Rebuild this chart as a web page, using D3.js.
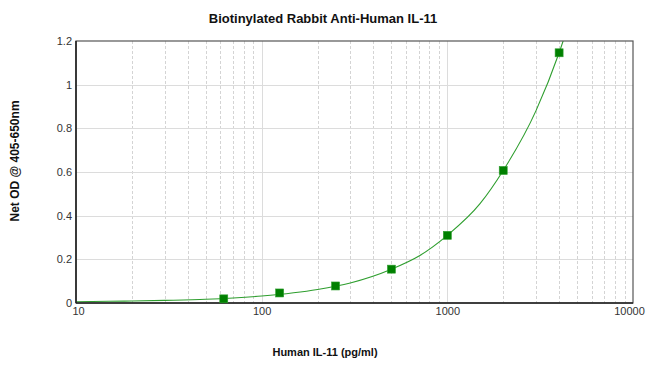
<!DOCTYPE html>
<html>
<head>
<meta charset="utf-8">
<script src="https://cdn.jsdelivr.net/npm/d3@7"></script>
<style>
  body { margin: 0; background: #fff; }
  svg { display: block; font-family: "Liberation Sans", Arial, sans-serif; }
  .grid line { shape-rendering: crispEdges; }
</style>
</head>
<body>
<div id="chart"></div>
<script>
// standard points (pg/ml vs net OD)
const concentrations = [62.5, 125, 250, 500, 1000, 2000, 4000];
const odValues = [0.019, 0.046, 0.078, 0.155, 0.31, 0.607, 1.146];

// fitted curve
const curveConc = [10, 15, 20, 30, 50, 100, 200, 300, 500, 700, 1000, 1500, 2000, 3000, 4000, 4300];
const curveOd = [0.006, 0.008, 0.009, 0.012, 0.017, 0.032, 0.062, 0.092, 0.155, 0.214, 0.31, 0.455, 0.607, 0.88, 1.146, 1.225];

const yTicks = [0, 0.2, 0.4, 0.6, 0.8, 1, 1.2];
const xTicks = [10, 100, 1000, 10000];

const svgWidth = 650;
const svgHeight = 376;
const margin = { top: 41, right: 17, bottom: 73, left: 76 };
const chartWidth = svgWidth - margin.left - margin.right;
const chartHeight = svgHeight - margin.top - margin.bottom;

const svg = d3.select("#chart")
  .append("svg")
  .attr("width", svgWidth)
  .attr("height", svgHeight);

const chartGroup = svg.append("g")
  .attr("transform", `translate(${margin.left}, ${margin.top})`);

const xScale = d3.scaleLog()
  .domain([10, 10000])
  .range([0, chartWidth]);

const yScale = d3.scaleLinear()
  .domain([0, 1.2])
  .range([chartHeight, 0]);

// minor + major vertical grid
const minorTicks = [];
[10, 100, 1000].forEach(dec => {
  for (let k = 2; k <= 9; k++) minorTicks.push(dec * k);
});

const grid = chartGroup.append("g").attr("class", "grid");

grid.selectAll(".vminor")
  .data(minorTicks)
  .enter()
  .append("line")
  .attr("x1", d => Math.round(xScale(d)) + 0.5)
  .attr("x2", d => Math.round(xScale(d)) + 0.5)
  .attr("y1", 0)
  .attr("y2", chartHeight)
  .attr("stroke", "#d4d4d4")
  .attr("stroke-dasharray", "3,2");

grid.selectAll(".vmajor")
  .data(xTicks.slice(1, -1))
  .enter()
  .append("line")
  .attr("x1", d => Math.round(xScale(d)) + 0.5)
  .attr("x2", d => Math.round(xScale(d)) + 0.5)
  .attr("y1", 0)
  .attr("y2", chartHeight)
  .attr("stroke", "#dcdcdc");

grid.selectAll(".hgrid")
  .data(yTicks.slice(1, -1))
  .enter()
  .append("line")
  .attr("x1", 0)
  .attr("x2", chartWidth)
  .attr("y1", d => Math.round(yScale(d)) + 0.5)
  .attr("y2", d => Math.round(yScale(d)) + 0.5)
  .attr("stroke", "#dcdcdc");

// fitted curve, clipped to the plot area
chartGroup.append("clipPath")
  .attr("id", "plotClip")
  .append("rect")
  .attr("width", chartWidth)
  .attr("height", chartHeight);

const line = d3.line()
  .x(d => xScale(d[0]))
  .y(d => yScale(d[1]))
  .curve(d3.curveMonotoneX);

chartGroup.append("path")
  .datum(d3.zip(curveConc, curveOd))
  .attr("clip-path", "url(#plotClip)")
  .attr("fill", "none")
  .attr("stroke", "#2e9e2e")
  .attr("stroke-width", 1.1)
  .attr("d", line);

// frame
chartGroup.append("rect")
  .attr("x", 0)
  .attr("y", 0)
  .attr("width", chartWidth)
  .attr("height", chartHeight)
  .attr("fill", "none")
  .attr("stroke", "#555")
  .attr("stroke-width", 1.2);

chartGroup.append("line")
  .attr("x1", 0).attr("x2", 0)
  .attr("y1", 0).attr("y2", chartHeight)
  .attr("stroke", "#222").attr("stroke-width", 1.6);

chartGroup.append("line")
  .attr("x1", 0).attr("x2", chartWidth)
  .attr("y1", chartHeight).attr("y2", chartHeight)
  .attr("stroke", "#222").attr("stroke-width", 1.6);

// markers
const size = 8;
chartGroup.selectAll(".pt")
  .data(d3.zip(concentrations, odValues))
  .enter()
  .append("rect")
  .attr("x", d => xScale(d[0]) - size / 2)
  .attr("y", d => yScale(d[1]) - size / 2)
  .attr("width", size)
  .attr("height", size)
  .attr("fill", "#008000")
  .attr("stroke", "#2e9e2e")
  .attr("stroke-width", 0.6);

// axes (labels only)
const yAxis = d3.axisLeft(yScale)
  .tickValues(yTicks)
  .tickSize(0)
  .tickPadding(4)
  .tickFormat(d => String(+d.toFixed(1)));

const xAxis = d3.axisBottom(xScale)
  .tickValues(xTicks)
  .tickSize(0)
  .tickPadding(4)
  .tickFormat(d3.format("d"));

const yG = chartGroup.append("g").call(yAxis);
const xG = chartGroup.append("g")
  .attr("transform", `translate(0,${chartHeight})`)
  .call(xAxis);

[yG, xG].forEach(g => {
  g.select(".domain").remove();
  g.selectAll("text")
    .attr("font-family", "'Liberation Sans', Arial, sans-serif")
    .attr("font-size", "11px")
    .attr("fill", "#333");
});
xG.selectAll("text").filter(d => d === 10).attr("dx", "2px");
xG.selectAll("text").filter(d => d === 10000).attr("dx", "-4px");

// titles
svg.append("text")
  .attr("x", 323)
  .attr("y", 23)
  .attr("text-anchor", "middle")
  .attr("font-weight", "bold")
  .attr("font-size", "13px")
  .attr("fill", "#111")
  .text("Biotinylated Rabbit Anti-Human IL-11");

svg.append("text")
  .attr("x", 325)
  .attr("y", 356)
  .attr("text-anchor", "middle")
  .attr("font-weight", "bold")
  .attr("font-size", "11px")
  .attr("fill", "#111")
  .text("Human IL-11 (pg/ml)");

svg.append("text")
  .attr("transform", "translate(19, 161) rotate(-90)")
  .attr("text-anchor", "middle")
  .attr("font-weight", "bold")
  .attr("font-size", "12px")
  .attr("fill", "#111")
  .text("Net OD @ 405-650nm");
</script>
</body>
</html>
